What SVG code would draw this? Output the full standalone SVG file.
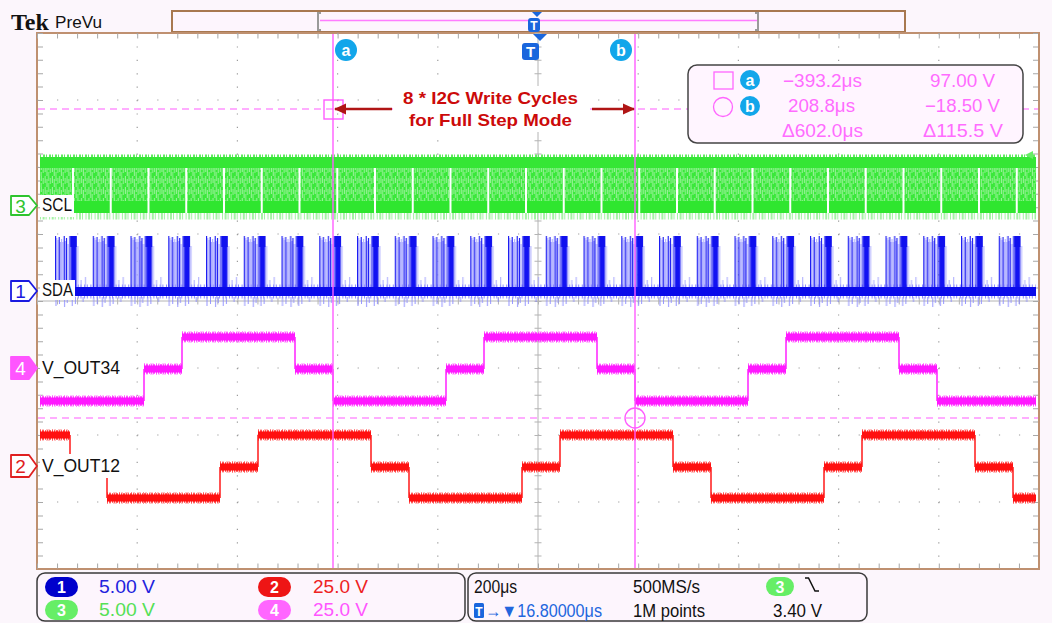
<svg xmlns="http://www.w3.org/2000/svg" width="1052" height="623" viewBox="0 0 1052 623">
<defs>
<style>
.gd{stroke:#9c9c9c;stroke-width:1.2;fill:none}
.gh{stroke-dasharray:1.2 18.84}
.gv{stroke-dasharray:1.2 12.2}
.lbl{font-family:"Liberation Sans",Arial,sans-serif;font-size:17.5px;fill:#111}
.mk{font-family:"Liberation Sans",Arial,sans-serif;font-size:19px;text-anchor:middle}
.cur{stroke:#ff5cff;stroke-width:1.4;fill:none}
.curd{stroke:#ff5cff;stroke-width:1.2;stroke-dasharray:7 5;fill:none}
.ro{font-family:"Liberation Sans",Arial,sans-serif;font-size:18px;fill:#ff6cff;text-anchor:middle}
.st{font-family:"Liberation Sans",Arial,sans-serif;font-size:18px}
.pl{font-family:"Liberation Sans",Arial,sans-serif;font-size:16px;font-weight:bold;fill:#fff;text-anchor:middle}
.ann{font-family:"Liberation Sans",Arial,sans-serif;font-size:17px;font-weight:bold;fill:#cc0a0a;text-anchor:middle}
.box{fill:#fdf5fd;stroke:#3a3a3a;stroke-width:1.5}
.tb{fill:#1a66dd}
</style>
<marker id="ah" viewBox="0 0 12 12" refX="11" refY="6" markerWidth="12" markerHeight="12" markerUnits="userSpaceOnUse" orient="auto"><path d="M0 0.5 L12 6 L0 11.5 Z" fill="#b01515"/></marker>
<pattern id="sclTex" patternUnits="userSpaceOnUse" x="0" y="0" width="7.3" height="11">
<rect width="7.3" height="11" fill="#3ae83a"/>
<rect x="0.8" y="0" width="0.9" height="7" fill="#a8f4a8"/>
<rect x="2.6" y="3" width="0.8" height="8" fill="#b4f6b4"/>
<rect x="4.3" y="0" width="1" height="5" fill="#9cf29c"/>
<rect x="4.3" y="7" width="0.8" height="4" fill="#a8f4a8"/>
<rect x="6.2" y="2" width="0.7" height="6" fill="#bcf7bc"/>
</pattern>
<pattern id="sclGap" patternUnits="userSpaceOnUse" x="72" y="0" width="37.75" height="60">
<rect x="0" y="0" width="2" height="60" fill="#fff"/>
</pattern>
<pattern id="sdaB" patternUnits="userSpaceOnUse" x="55" y="230" width="37.75" height="80">
<path d="M1.8 8V58M3 10V58M5.4 12V58M6.6 9V58M7.8 12V58M10.3 11V58M13 14V58M22.8 16V58M30.5 47V58M26 50V58" stroke="#9c9cff" stroke-width="0.9"/>
<path d="M0.6 6V58M4.2 7V58M9.2 6V58M11.5 8V58M14.9 6V58M16.6 6V58M17.7 6V58M18.7 6V58M19.8 6V58M20.9 6V58" stroke="#1212f2" stroke-width="1.1"/>
<rect x="15.2" y="6" width="6.6" height="11" fill="#1010ee"/>
<path d="M1 67V76M4.5 67V74M9.6 67V77M12.2 67V73M17.2 67V76M20.4 67V74M28 67V72" stroke="#8a8aff" stroke-width="0.9"/>
</pattern>
</defs>

<rect width="1052" height="623" fill="#fcf6fc"/>

<g id="header">
<text x="11" y="30" font-family="'Liberation Serif',serif" font-weight="bold" font-size="24" fill="#111">Tek</text>
<text x="55" y="28" font-family="'Liberation Sans',sans-serif" font-size="17" fill="#111" textLength="47" lengthAdjust="spacingAndGlyphs">PreVu</text>
<rect x="172" y="11" width="733" height="21" fill="#fdf5fd" stroke="#a87850" stroke-width="2"/>
<line x1="320" y1="20.5" x2="757" y2="20.5" stroke="#ff7cff" stroke-width="1.5"/>
<path d="M321 13H318V30H321M755 13H758V30H755" fill="none" stroke="#9a9a9a" stroke-width="2"/>
<path d="M532 12H542L537 17Z" class="tb"/>
<rect x="528" y="18" width="12" height="14" rx="3" class="tb"/>
<text x="534" y="30" font-family="'Liberation Sans',sans-serif" font-size="12" font-weight="bold" fill="#fff" text-anchor="middle">T</text>
</g>

<g id="frame">
<rect x="37" y="33" width="1002" height="536" fill="#fff" stroke="#bf9070" stroke-width="2"/>
</g>

<g id="grid">
<g class="gd gv">
<line x1="137.2" y1="33" x2="137.2" y2="569"/><line x1="237.4" y1="33" x2="237.4" y2="569"/>
<line x1="337.6" y1="33" x2="337.6" y2="569"/><line x1="437.8" y1="33" x2="437.8" y2="569"/>
<line x1="638.2" y1="33" x2="638.2" y2="569"/><line x1="738.4" y1="33" x2="738.4" y2="569"/>
<line x1="838.6" y1="33" x2="838.6" y2="569"/><line x1="938.8" y1="33" x2="938.8" y2="569"/>
</g>
<g class="gd gh">
<line x1="37" y1="100" x2="1039" y2="100"/><line x1="37" y1="167" x2="1039" y2="167"/>
<line x1="37" y1="234" x2="1039" y2="234"/><line x1="37" y1="368" x2="1039" y2="368"/>
<line x1="37" y1="435" x2="1039" y2="435"/><line x1="37" y1="502" x2="1039" y2="502"/>
</g>
<line x1="538" y1="33" x2="538" y2="569" stroke="#b4b4b4" stroke-width="1"/>
<line x1="37" y1="301" x2="1039" y2="301" stroke="#b4b4b4" stroke-width="1"/>
<line x1="538" y1="33" x2="538" y2="569" stroke="#b4b4b4" stroke-width="7" stroke-dasharray="1 12.4"/>
<line x1="37" y1="301" x2="1039" y2="301" stroke="#b4b4b4" stroke-width="7" stroke-dasharray="1 19.04"/>
<g stroke="#a8a8a8" fill="none">
<line x1="37" y1="36" x2="1039" y2="36" stroke-width="5" stroke-dasharray="1 19.04"/>
<line x1="37" y1="566" x2="1039" y2="566" stroke-width="5" stroke-dasharray="1 19.04"/>
<line x1="40.5" y1="33" x2="40.5" y2="569" stroke-width="5" stroke-dasharray="1 12.4"/>
<line x1="1035.5" y1="33" x2="1035.5" y2="569" stroke-width="5" stroke-dasharray="1 12.4"/>
</g>
</g>

<g id="trace-scl">
<line x1="40" y1="216" x2="1036" y2="216" stroke="#a4f2a4" stroke-width="7" stroke-dasharray="1 1.6 2 1 1 2.5"/>
<line x1="40" y1="156" x2="1036" y2="156" stroke="#5fec5f" stroke-width="3" stroke-dasharray="1 2 2 1"/>
<rect x="40" y="157" width="996" height="11" fill="#35e635"/>
<rect x="40" y="168" width="996" height="33" fill="url(#sclTex)"/>
<rect x="40" y="201" width="996" height="12" fill="#2fe62f"/>
<rect x="72" y="168" width="964" height="45" fill="url(#sclGap)"/>
<path d="M1025 155L1033 151V159Z" fill="#66ee66"/>
</g>

<g id="trace-sda">
<line x1="40" y1="291.5" x2="1036" y2="291.5" stroke="#8c8cff" stroke-width="14" stroke-dasharray="1 1.7 1 2.6"/>
<rect x="55" y="230" width="981" height="80" fill="url(#sdaB)"/>
<rect x="40" y="287" width="996" height="9" fill="#0a0aea"/>
</g>

<g id="trace-vout34" fill="none">
<path d="M40 401H144M144 369H182M182 337H295M295 369H333M333 401H446M446 369H484M484 337H597M597 369H635M635 401H748M748 369H786M786 337H899M899 369H937M937 401H1036" stroke="#ff8cff" stroke-width="12" stroke-dasharray="1 1.5 1 3 1 1 1 2.5"/>
<path d="M40 401H144M144 369H182M182 337H295M295 369H333M333 401H446M446 369H484M484 337H597M597 369H635M635 401H748M748 369H786M786 337H899M899 369H937M937 401H1036" stroke="#ff3cff" stroke-width="9.5" stroke-dasharray="1 1 2 1 1 1"/>
<path d="M40 401H144M144 369H182M182 337H295M295 369H333M333 401H446M446 369H484M484 337H597M597 369H635M635 401H748M748 369H786M786 337H899M899 369H937M937 401H1036" stroke="#ff18ff" stroke-width="7"/>
<path d="M144 401V369M182 369V337M295 337V369M333 369V401M446 401V369M484 369V337M597 337V369M635 369V401M748 401V369M786 369V337M899 337V369M937 369V401" stroke="#ff22ff" stroke-width="1.5"/>
</g>

<g id="trace-vout12" fill="none">
<path d="M40 435H70M70 467H107M107 498H220M220 467H258M258 435H371M371 467H409M409 498H522M522 467H560M560 435H673M673 467H711M711 498H824M824 467H862M862 435H975M975 467H1013M1013 498H1036" stroke="#ff8a8a" stroke-width="12" stroke-dasharray="1 1.5 1 3 1 1 1 2.5"/>
<path d="M40 435H70M70 467H107M107 498H220M220 467H258M258 435H371M371 467H409M409 498H522M522 467H560M560 435H673M673 467H711M711 498H824M824 467H862M862 435H975M975 467H1013M1013 498H1036" stroke="#ff3a3a" stroke-width="9.5" stroke-dasharray="1 1 2 1 1 1"/>
<path d="M40 435H70M70 467H107M107 498H220M220 467H258M258 435H371M371 467H409M409 498H522M522 467H560M560 435H673M673 467H711M711 498H824M824 467H862M862 435H975M975 467H1013M1013 498H1036" stroke="#ff1010" stroke-width="7"/>
<path d="M70 435V467M107 467V498M220 498V467M258 467V435M371 435V467M409 467V498M522 498V467M560 467V435M673 435V467M711 467V498M824 498V467M862 467V435M975 435V467M1013 467V498" stroke="#ff1a1a" stroke-width="1.5"/>
</g>

<g id="ch3-label">
<rect x="40" y="195" width="34" height="22" fill="#fff"/>
<path d="M11 196H29L37 205.5L29 215H11Z" fill="#fff" stroke="#2ec42e" stroke-width="1.8" stroke-linejoin="round"/>
<text x="20.5" y="212.5" class="mk" fill="#2ec42e">3</text>
<text x="42" y="211" class="lbl" textLength="30" lengthAdjust="spacingAndGlyphs">SCL</text>
</g>
<g id="ch1-label">
<rect x="40" y="280" width="35" height="20" fill="#fff"/>
<path d="M11 281H29L37 291L29 301H11Z" fill="#fff" stroke="#1a1ae0" stroke-width="1.8" stroke-linejoin="round"/>
<text x="20.5" y="298" class="mk" fill="#1a1ae0">1</text>
<text x="42" y="296" class="lbl" textLength="31" lengthAdjust="spacingAndGlyphs">SDA</text>
</g>
<g id="ch4-label">
<rect x="40" y="358" width="82" height="22" fill="#fff"/>
<path d="M11 357H29L37 368L29 379H11Z" fill="#ff55ff" stroke="#ff55ff" stroke-width="1.8" stroke-linejoin="round"/>
<text x="20.5" y="375" class="mk" fill="#fff">4</text>
<text x="42" y="374" class="lbl" textLength="78" lengthAdjust="spacingAndGlyphs">V_OUT34</text>
</g>
<g id="ch2-label">
<rect x="40" y="454" width="82" height="24" fill="#fff"/>
<path d="M11 455H29L37 466L29 477H11Z" fill="#fff" stroke="#e02020" stroke-width="1.8" stroke-linejoin="round"/>
<text x="20.5" y="473" class="mk" fill="#e02020">2</text>
<text x="42" y="472" class="lbl" textLength="78" lengthAdjust="spacingAndGlyphs">V_OUT12</text>
</g>

<g id="cursors">
<line x1="38" y1="109" x2="1038" y2="109" class="curd"/>
<line x1="38" y1="418" x2="1038" y2="418" class="curd"/>
<line x1="333" y1="34" x2="333" y2="568" class="cur"/>
<line x1="635" y1="34" x2="635" y2="568" class="cur"/>
<rect x="324" y="100" width="19" height="19" class="cur"/>
<circle cx="635" cy="418" r="10" class="cur"/>
<circle cx="346" cy="50" r="11" fill="#12a6ea"/>
<text x="346" y="56" class="pl" font-size="18">a</text>
<circle cx="621" cy="50" r="11" fill="#12a6ea"/>
<text x="621" y="56" class="pl" font-size="18">b</text>
<path d="M533 34H547L540 41Z" class="tb"/>
<rect x="522" y="43" width="17" height="17" rx="3" class="tb"/>
<text x="530.5" y="57" font-family="'Liberation Sans',sans-serif" font-size="15" font-weight="bold" fill="#fff" text-anchor="middle">T</text>
</g>

<g id="annotation">
<rect x="395" y="86" width="190" height="46" fill="#fff"/>
<text x="490.5" y="104" class="ann" textLength="175" lengthAdjust="spacingAndGlyphs">8 * I2C Write Cycles</text>
<text x="490.5" y="126" class="ann" textLength="163" lengthAdjust="spacingAndGlyphs">for Full Step Mode</text>
</g>

<g id="connectors">
<line x1="392" y1="109" x2="335" y2="109" stroke="#b01515" stroke-width="2.5" marker-end="url(#ah)"/>
<line x1="592" y1="109" x2="634" y2="109" stroke="#b01515" stroke-width="2.5" marker-end="url(#ah)"/>
</g>

<g id="readout">
<rect x="688" y="65" width="335" height="78" rx="9" fill="#fff5ff" stroke="#444" stroke-width="1.5"/>
<rect x="714" y="72" width="19" height="17" fill="none" stroke="#ff66ff" stroke-width="1.3"/>
<circle cx="750" cy="80" r="10" fill="#12a6ea"/>
<text x="750" y="85.5" class="pl">a</text>
<circle cx="723" cy="107" r="9.5" fill="none" stroke="#ff66ff" stroke-width="1.3"/>
<circle cx="750" cy="106" r="10" fill="#12a6ea"/>
<text x="750" y="111.5" class="pl">b</text>
<text x="822.5" y="87" class="ro" textLength="79" lengthAdjust="spacingAndGlyphs">−393.2μs</text>
<text x="962.5" y="87" class="ro" textLength="65" lengthAdjust="spacingAndGlyphs">97.00 V</text>
<text x="821.5" y="112" class="ro" textLength="67" lengthAdjust="spacingAndGlyphs">208.8μs</text>
<text x="962.5" y="112" class="ro" textLength="75" lengthAdjust="spacingAndGlyphs">−18.50 V</text>
<text x="822.5" y="137" class="ro" textLength="81" lengthAdjust="spacingAndGlyphs">Δ602.0μs</text>
<text x="963" y="137" class="ro" textLength="80" lengthAdjust="spacingAndGlyphs">Δ115.5 V</text>
</g>

<g id="status-vertical">
<rect x="37" y="573" width="428" height="48" rx="8" class="box"/>
<rect x="45" y="577" width="33" height="20" rx="10" fill="#0000cc"/>
<text x="61.5" y="593" class="pl">1</text>
<text x="99" y="593" class="st" fill="#2222dd" textLength="56" lengthAdjust="spacingAndGlyphs">5.00 V</text>
<rect x="258" y="577" width="33" height="20" rx="10" fill="#ee1515"/>
<text x="274.5" y="593" class="pl">2</text>
<text x="313" y="593" class="st" fill="#ee2222" textLength="55" lengthAdjust="spacingAndGlyphs">25.0 V</text>
<rect x="45" y="600" width="33" height="20" rx="10" fill="#66ee66"/>
<text x="61.5" y="616" class="pl">3</text>
<text x="99" y="616" class="st" fill="#55e055" textLength="56" lengthAdjust="spacingAndGlyphs">5.00 V</text>
<rect x="258" y="600" width="33" height="20" rx="10" fill="#ff66ff"/>
<text x="274.5" y="616" class="pl">4</text>
<text x="313" y="616" class="st" fill="#ff55ff" textLength="55" lengthAdjust="spacingAndGlyphs">25.0 V</text>
</g>

<g id="status-horizontal">
<rect x="468" y="573" width="399" height="48" rx="8" class="box"/>
<text x="474" y="593" class="st" fill="#111" textLength="43" lengthAdjust="spacingAndGlyphs">200μs</text>
<text x="633" y="593" class="st" fill="#111" textLength="67" lengthAdjust="spacingAndGlyphs">500MS/s</text>
<rect x="766" y="577" width="28" height="19" rx="9.5" fill="#66ee66"/>
<text x="780" y="592.5" class="pl">3</text>
<path d="M805 578H808.5L815 591H819" fill="none" stroke="#111" stroke-width="1.5"/>
<rect x="474" y="603" width="10" height="15" rx="1.5" class="tb"/>
<text x="479" y="615.5" font-family="'Liberation Sans',sans-serif" font-size="12" font-weight="bold" fill="#fff" text-anchor="middle">T</text>
<text x="485" y="617" class="st" fill="#2266dd" textLength="117" lengthAdjust="spacingAndGlyphs">→▼16.80000μs</text>
<text x="633" y="617" class="st" fill="#111" textLength="72" lengthAdjust="spacingAndGlyphs">1M points</text>
<text x="773" y="617" class="st" fill="#111" textLength="49" lengthAdjust="spacingAndGlyphs">3.40 V</text>
</g>
</svg>
